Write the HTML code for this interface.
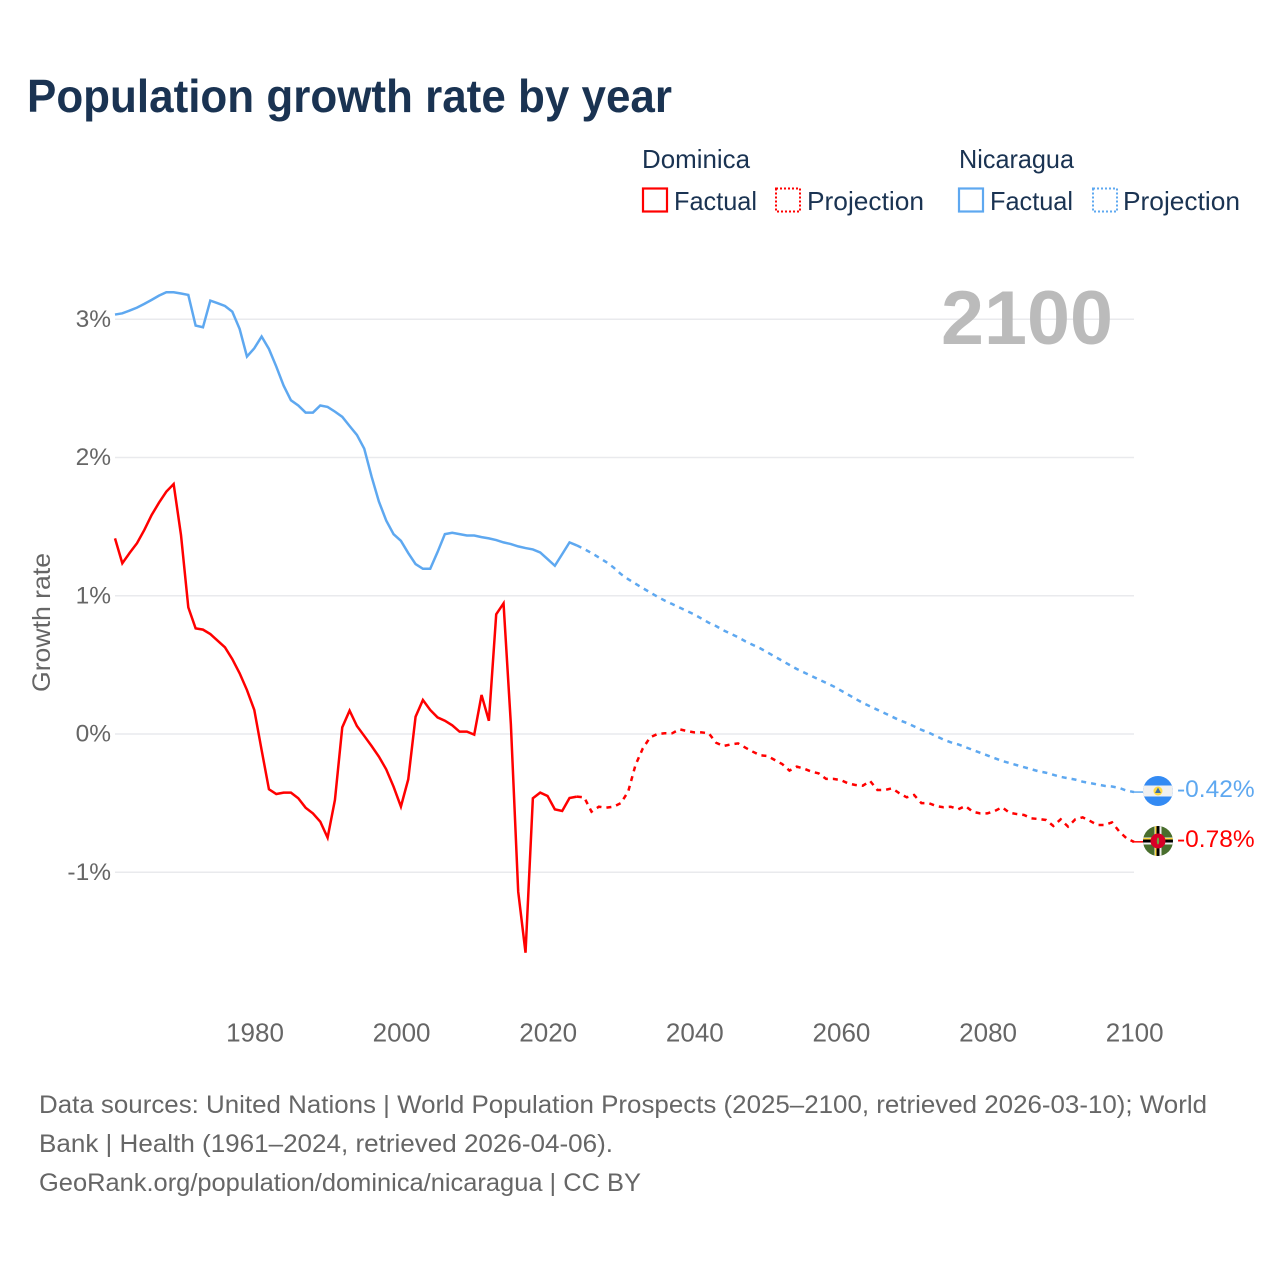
<!DOCTYPE html>
<html lang="en">
<head>
<meta charset="utf-8">
<title>Population growth rate by year</title>
<style>
  html, body { margin: 0; padding: 0; background: #fff; }
  svg { display: block; font-family: "Liberation Sans", sans-serif; }
</style>
</head>
<body>
<svg id="chart" xmlns="http://www.w3.org/2000/svg" width="1280" height="1280" viewBox="0 0 1280 1280">
  <defs>
    <clipPath id="flag-clip-ni"><circle cx="1158" cy="791" r="15"/></clipPath>
    <clipPath id="flag-clip-dm"><circle cx="1158" cy="841" r="15"/></clipPath>
  </defs>

  <text x="27" y="112" font-size="46" font-weight="700" fill="#1a3352" textLength="645" lengthAdjust="spacingAndGlyphs">Population growth rate by year</text>

  <g font-size="26" fill="#1a3352">
    <text x="642" y="168" textLength="108" lengthAdjust="spacingAndGlyphs">Dominica</text>
    <text x="959" y="168" textLength="115" lengthAdjust="spacingAndGlyphs">Nicaragua</text>
    <rect x="643" y="188.5" width="24" height="23" fill="none" stroke="#ff0000" stroke-width="2.2"/>
    <text x="674" y="210" textLength="83" lengthAdjust="spacingAndGlyphs">Factual</text>
    <rect x="776" y="188.5" width="24" height="23" fill="none" stroke="#ff0000" stroke-width="2" stroke-dasharray="2 2"/>
    <text x="807" y="210" textLength="117" lengthAdjust="spacingAndGlyphs">Projection</text>
    <rect x="959" y="188.5" width="24" height="23" fill="none" stroke="#5ea8f0" stroke-width="2.2"/>
    <text x="990" y="210" textLength="83" lengthAdjust="spacingAndGlyphs">Factual</text>
    <rect x="1093" y="188.5" width="24" height="23" fill="none" stroke="#5ea8f0" stroke-width="2" stroke-dasharray="2 2"/>
    <text x="1123" y="210" textLength="117" lengthAdjust="spacingAndGlyphs">Projection</text>
  </g>

  <g id="grid"></g>
  <g id="y-ticks" font-size="24.5" fill="#666"></g>
  <g id="x-ticks" font-size="26" fill="#666"></g>

  <text transform="translate(50 622.5) rotate(-90)" text-anchor="middle" font-size="25" fill="#666" textLength="139" lengthAdjust="spacingAndGlyphs">Growth rate</text>

  <text x="941" y="344" font-size="76" font-weight="700" fill="#bbbbbb" textLength="172" lengthAdjust="spacingAndGlyphs">2100</text>

  <g id="series"></g>

  <g clip-path="url(#flag-clip-ni)">
    <rect x="1143" y="776" width="30" height="30" fill="#338af3"/>
    <rect x="1143" y="785.5" width="30" height="11" fill="#f0f0f0"/>
    <circle cx="1158" cy="791" r="4.5" fill="#ffda44"/>
    <path d="M1158 787.5 L1161 793 L1155 793 Z" fill="#3f6f9f"/>
  </g>
  <g clip-path="url(#flag-clip-dm)">
    <rect x="1143" y="826" width="30" height="30" fill="#496e2d"/>
    <rect x="1143" y="837.5" width="30" height="7" fill="#f0f0f0"/>
    <rect x="1143" y="839.5" width="30" height="3" fill="#000"/>
    <rect x="1143" y="838" width="30" height="1.5" fill="#ffda44"/>
    <rect x="1154.5" y="826" width="7" height="30" fill="#f0f0f0"/>
    <rect x="1156.5" y="826" width="3" height="30" fill="#000"/>
    <rect x="1155" y="826" width="1.5" height="30" fill="#ffda44"/>
    <circle cx="1158" cy="841" r="7.5" fill="#d80027"/>
    <ellipse cx="1158" cy="841" rx="1.2" ry="3.5" fill="#6da544"/>
  </g>

  <g id="end-labels" font-size="24.5"></g>

  <g font-size="25" fill="#666">
    <text x="39" y="1113" textLength="1168" lengthAdjust="spacingAndGlyphs">Data sources: United Nations | World Population Prospects (2025–2100, retrieved 2026-03-10); World</text>
    <text x="39" y="1152" textLength="574" lengthAdjust="spacingAndGlyphs">Bank | Health (1961–2024, retrieved 2026-04-06).</text>
    <text x="39" y="1191" textLength="602" lengthAdjust="spacingAndGlyphs">GeoRank.org/population/dominica/nicaragua | CC BY</text>
  </g>
</svg>

<script>
const firstYear = 1961;
const yTickValues = [3, 2, 1, 0, -1];
const yTickLabels = ["3%", "2%", "1%", "0%", "-1%"];
const xTickValues = [1980, 2000, 2020, 2040, 2060, 2080, 2100];
const xTickLabels = ["1980", "2000", "2020", "2040", "2060", "2080", "2100"];

const dominicaFactual = [
  1.415, 1.235, 1.31, 1.38, 1.476, 1.584, 1.673, 1.753, 1.808, 1.44,
  0.916, 0.764, 0.755, 0.723, 0.675, 0.627, 0.542, 0.439, 0.318, 0.174,
  -0.116, -0.40, -0.434, -0.424, -0.424, -0.465, -0.533, -0.574, -0.634, -0.75,
  -0.477, 0.048, 0.169, 0.058, -0.014, -0.087, -0.164, -0.256, -0.381, -0.525,
  -0.328, 0.125, 0.246, 0.174, 0.12, 0.096, 0.063, 0.017, 0.017, -0.005,
  0.282, 0.096, 0.866, 0.945, 0.07, -1.14, -1.582, -0.465, -0.424, -0.448,
  -0.545, -0.557, -0.463, -0.453
];
const dominicaProjection = [
  -0.458, -0.562, -0.526, -0.533, -0.526, -0.50, -0.417, -0.224, -0.104, -0.024,
  0, 0.005, 0.005, 0.034, 0.022, 0.012, 0.012, 0.005, -0.063, -0.087,
  -0.075, -0.068, -0.099, -0.128, -0.154, -0.159, -0.188, -0.217, -0.265, -0.236,
  -0.251, -0.272, -0.285, -0.325, -0.325, -0.333, -0.357, -0.369, -0.374, -0.34,
  -0.405, -0.405, -0.393, -0.429, -0.458, -0.441, -0.50, -0.50, -0.521, -0.53,
  -0.526, -0.545, -0.521, -0.562, -0.574, -0.574, -0.557, -0.53, -0.569, -0.579,
  -0.586, -0.61, -0.615, -0.622, -0.665, -0.617, -0.67, -0.617, -0.603, -0.629,
  -0.658, -0.658, -0.639, -0.706, -0.755, -0.78
];
const nicaraguaFactual = [
  3.034, 3.043, 3.063, 3.084, 3.111, 3.14, 3.171, 3.195, 3.195, 3.186,
  3.176, 2.954, 2.942, 3.135, 3.116, 3.096, 3.055, 2.93, 2.73, 2.79,
  2.875, 2.785, 2.658, 2.52, 2.414, 2.376, 2.325, 2.325, 2.376, 2.366,
  2.332, 2.294, 2.228, 2.163, 2.064, 1.862, 1.681, 1.544, 1.445, 1.397,
  1.309, 1.229, 1.195, 1.195, 1.316, 1.446, 1.456, 1.446, 1.436, 1.436,
  1.424, 1.415, 1.403, 1.386, 1.374, 1.357, 1.345, 1.335, 1.313, 1.265,
  1.217, 1.301, 1.386, 1.364
];
const nicaraguaProjection = [
  1.338, 1.309, 1.277, 1.244, 1.205, 1.157, 1.12, 1.087, 1.055, 1.024,
  0.993, 0.965, 0.94, 0.915, 0.89, 0.865, 0.835, 0.805, 0.78, 0.75,
  0.725, 0.70, 0.67, 0.645, 0.62, 0.59, 0.56, 0.53, 0.50, 0.47,
  0.445, 0.42, 0.395, 0.37, 0.345, 0.315, 0.285, 0.255, 0.225, 0.20,
  0.175, 0.15, 0.125, 0.10, 0.08, 0.055, 0.03, 0.01, -0.015, -0.04,
  -0.06, -0.075, -0.095, -0.115, -0.135, -0.155, -0.175, -0.195, -0.21, -0.225,
  -0.24, -0.255, -0.27, -0.28, -0.295, -0.31, -0.32, -0.33, -0.345, -0.355,
  -0.365, -0.375, -0.38, -0.39, -0.41, -0.42
];

const NS = 'http://www.w3.org/2000/svg';
const RED = '#ff0000';
const BLUE = '#5ea8f0';

function xScale(year) { return 115 + (year - firstYear) * (1134 - 115) / (2100 - firstYear); }
function yScale(value) { return 734 - value * 138.25; }

function make(tag, attrs, parent) {
  const el = document.createElementNS(NS, tag);
  for (const k in attrs) el.setAttribute(k, attrs[k]);
  parent.appendChild(el);
  return el;
}

function pathFrom(values, startYear) {
  return values.map(function (v, i) {
    return (i ? 'L' : 'M') + xScale(startYear + i).toFixed(2) + ' ' + yScale(v).toFixed(2);
  }).join(' ');
}

const gridGroup = document.getElementById('grid');
const yGroup = document.getElementById('y-ticks');
yTickValues.forEach(function (v, i) {
  const line = make('line', { x1: 115, x2: 1134, y1: yScale(v), y2: yScale(v), stroke: '#e9eaed', 'stroke-width': 1.5 }, gridGroup);
  
  
  const label = make('text', { x: 111, y: yScale(v) + 7.5, 'text-anchor': 'end' }, yGroup);
  
  
  label.textContent = yTickLabels[i];
});

const xGroup = document.getElementById('x-ticks');
xTickValues.forEach(function (year, i) {
  const label = make('text', { x: xScale(year) + 0.7, y: 1041.5, 'text-anchor': 'middle' }, xGroup);
  
  
  label.textContent = xTickLabels[i];
});

const seriesGroup = document.getElementById('series');
const labelsGroup = document.getElementById('end-labels');

function drawCountry(slug, color, factual, projection, labelY) {
  const endYear = firstYear + factual.length - 1;
  const lastFactual = factual[factual.length - 1];

  const solid = make('path', { d: pathFrom(factual, firstYear), fill: 'none', stroke: color, 'stroke-width': 2.5, 'stroke-linejoin': 'miter' }, seriesGroup);
  
  

  const dashed = make('path', { d: pathFrom([lastFactual].concat(projection), endYear), fill: 'none', stroke: color, 'stroke-width': 2.5, 'stroke-dasharray': '5 5' }, seriesGroup);
  
  

  const endValue = projection[projection.length - 1];
  const connector = make('line', { x1: xScale(2100) - 2, x2: 1145, y1: yScale(endValue), y2: yScale(endValue), stroke: color, 'stroke-width': 1.5 }, seriesGroup);
  
  

  const label = make('text', { x: 1177, y: labelY, fill: color }, labelsGroup);
  
  
  label.textContent = endValue.toFixed(2) + '%';
}

drawCountry('dominica', RED, dominicaFactual, dominicaProjection, 847);
drawCountry('nicaragua', BLUE, nicaraguaFactual, nicaraguaProjection, 797);
</script>
</body>
</html>
